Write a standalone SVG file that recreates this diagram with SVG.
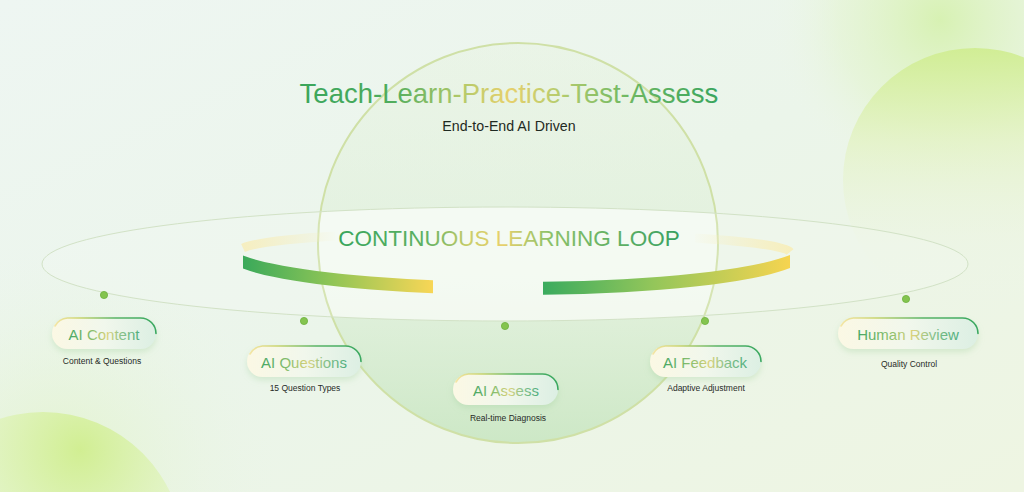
<svg xmlns="http://www.w3.org/2000/svg" width="1024" height="492" viewBox="0 0 1024 492">
<defs>
<style>
.pilltext{font-family:"Liberation Sans",Arial,sans-serif;font-size:15px;text-anchor:middle;fill:url(#gPillText)}
.sub{font-family:"Liberation Sans",Arial,sans-serif;font-size:8.5px;text-anchor:middle;fill:#262b27}
.pill{fill:url(#gPill);filter:url(#fShadow)}
.pilledge{fill:none;stroke:url(#gEdge);stroke-width:1.6;stroke-linecap:round}
.dot{fill:#84c44f;stroke:#6cb13c;stroke-width:0.8}
</style>
<linearGradient id="gBg" x1="0" y1="0" x2="1" y2="1">
<stop offset="0" stop-color="#eef6f2"/>
<stop offset="0.5" stop-color="#ebf5ea"/>
<stop offset="1" stop-color="#eef5e2"/>
</linearGradient>
<radialGradient id="gTR" cx="940" cy="20" r="170" gradientUnits="userSpaceOnUse">
<stop offset="0" stop-color="#d6f1b0" stop-opacity="0.95"/>
<stop offset="0.6" stop-color="#e2f4cb" stop-opacity="0.5"/>
<stop offset="1" stop-color="#eef6ea" stop-opacity="0"/>
</radialGradient>
<linearGradient id="gRC" x1="0" y1="0" x2="0" y2="1">
<stop offset="0" stop-color="#d0ed92" stop-opacity="0.95"/>
<stop offset="0.35" stop-color="#e2f2bf" stop-opacity="0.7"/>
<stop offset="0.75" stop-color="#edf5dd" stop-opacity="0.2"/>
<stop offset="1" stop-color="#eef6e6" stop-opacity="0"/>
</linearGradient>
<radialGradient id="gBL" cx="80" cy="450" r="150" gradientUnits="userSpaceOnUse">
<stop offset="0" stop-color="#d0ee8f" stop-opacity="0.95"/>
<stop offset="0.6" stop-color="#def3b6" stop-opacity="0.7"/>
<stop offset="1" stop-color="#e6f4d0" stop-opacity="0.3"/>
</radialGradient>
<radialGradient id="gBLglow" cx="60" cy="470" r="220" gradientUnits="userSpaceOnUse">
<stop offset="0" stop-color="#dff3c0" stop-opacity="0.7"/>
<stop offset="1" stop-color="#eaf5e6" stop-opacity="0"/>
</radialGradient>
<linearGradient id="gCircle" x1="0" y1="0" x2="0" y2="1">
<stop offset="0" stop-color="#e6f2dc" stop-opacity="0.35"/>
<stop offset="0.6" stop-color="#d6ecce" stop-opacity="0.45"/>
<stop offset="1" stop-color="#bfe2b8" stop-opacity="0.7"/>
</linearGradient>
<clipPath id="cCircle"><circle cx="518" cy="243" r="200"/></clipPath>
<linearGradient id="gTitle" x1="297" y1="0" x2="721" y2="0" gradientUnits="userSpaceOnUse">
<stop offset="0" stop-color="#39a55b"/>
<stop offset="0.22" stop-color="#4eac5d"/>
<stop offset="0.4" stop-color="#b9cb6a"/>
<stop offset="0.5" stop-color="#e7d06c"/>
<stop offset="0.62" stop-color="#b5cc6e"/>
<stop offset="0.78" stop-color="#6fb862"/>
<stop offset="1" stop-color="#38a45d"/>
</linearGradient>
<linearGradient id="gLoop" x1="340" y1="0" x2="678" y2="0" gradientUnits="userSpaceOnUse">
<stop offset="0" stop-color="#3aa55c"/>
<stop offset="0.25" stop-color="#5db062"/>
<stop offset="0.38" stop-color="#c8cd6a"/>
<stop offset="0.48" stop-color="#e8d06c"/>
<stop offset="0.62" stop-color="#8cc168"/>
<stop offset="1" stop-color="#3aa060"/>
</linearGradient>
<linearGradient id="gPillText" x1="0" y1="0" x2="1" y2="0">
<stop offset="0" stop-color="#45a664"/>
<stop offset="0.35" stop-color="#8fc06e"/>
<stop offset="0.55" stop-color="#dcd27c"/>
<stop offset="0.75" stop-color="#86c08a"/>
<stop offset="1" stop-color="#4fad7c"/>
</linearGradient>
<linearGradient id="gPill" x1="0" y1="0" x2="1" y2="0">
<stop offset="0" stop-color="#fbf8e4"/>
<stop offset="0.5" stop-color="#f1f7ec"/>
<stop offset="1" stop-color="#dcefe3"/>
</linearGradient>
<linearGradient id="gEdge" x1="0" y1="0" x2="1" y2="0">
<stop offset="0" stop-color="#eed97a" stop-opacity="0.6"/>
<stop offset="0.25" stop-color="#c9d46e"/>
<stop offset="0.6" stop-color="#58b366"/>
<stop offset="1" stop-color="#3aa860"/>
</linearGradient>
<filter id="fShadow" x="-20%" y="-30%" width="140%" height="180%">
<feDropShadow dx="0" dy="3" stdDeviation="3" flood-color="#9fd09a" flood-opacity="0.35"/>
</filter>
<linearGradient id="gRibL" x1="243" y1="0" x2="433" y2="0" gradientUnits="userSpaceOnUse">
<stop offset="0" stop-color="#3aa95a"/>
<stop offset="0.45" stop-color="#8cc456"/>
<stop offset="1" stop-color="#f8d656"/>
</linearGradient>
<linearGradient id="gRibR" x1="543" y1="0" x2="790" y2="0" gradientUnits="userSpaceOnUse">
<stop offset="0" stop-color="#3aab5e"/>
<stop offset="0.45" stop-color="#94c65a"/>
<stop offset="1" stop-color="#f6d450"/>
</linearGradient>
<linearGradient id="gCreamL" x1="243" y1="0" x2="340" y2="0" gradientUnits="userSpaceOnUse">
<stop offset="0" stop-color="#f6eebe" stop-opacity="0.95"/>
<stop offset="1" stop-color="#f6eebe" stop-opacity="0"/>
</linearGradient>
<linearGradient id="gCreamR" x1="790" y1="0" x2="690" y2="0" gradientUnits="userSpaceOnUse">
<stop offset="0" stop-color="#f7eebb" stop-opacity="0.95"/>
<stop offset="1" stop-color="#f7eebb" stop-opacity="0"/>
</linearGradient>
</defs>

<g id="background">
<rect width="1024" height="492" fill="url(#gBg)"/>
<rect width="1024" height="492" fill="url(#gTR)"/>
<circle cx="975" cy="180" r="132" fill="url(#gRC)"/>
<rect width="1024" height="492" fill="url(#gBLglow)"/>
<circle cx="43" cy="553" r="141" fill="url(#gBL)"/>
</g>

<g id="sphere">
<circle cx="518" cy="243" r="200" fill="url(#gCircle)"/>
<ellipse cx="505" cy="264" rx="463" ry="57" fill="#ffffff" fill-opacity="0.55" clip-path="url(#cCircle)"/>
<circle cx="518" cy="243" r="200" fill="none" stroke="#cfe0a6" stroke-width="2"/>
</g>

<g id="connectors">
<ellipse cx="505" cy="264" rx="463" ry="57" fill="#ffffff" fill-opacity="0.15" stroke="#d2e2c6" stroke-width="1"/>
<circle class="dot" cx="104" cy="295" r="3.6"/>
<circle class="dot" cx="304" cy="321" r="3.6"/>
<circle class="dot" cx="505" cy="326" r="3.6"/>
<circle class="dot" cx="705" cy="321" r="3.6"/>
<circle class="dot" cx="906" cy="299" r="3.6"/>
</g>

<g id="title">
<text x="509" y="103" font-family="'Liberation Sans',Arial,sans-serif" font-size="27.5" text-anchor="middle" fill="url(#gTitle)">Teach-Learn-Practice-Test-Assess</text>
<text x="509" y="131" font-family="'Liberation Sans',Arial,sans-serif" font-size="14.2" text-anchor="middle" fill="#1f2a22">End-to-End AI Driven</text>
</g>

<g id="loop">
<path d="M243 248 A 273 20 0 0 1 335 236" fill="none" stroke="url(#gCreamL)" stroke-width="9"/>
<path d="M790 252 A 274 20 0 0 0 695 238" fill="none" stroke="url(#gCreamR)" stroke-width="9"/>
<path d="M243 255.5 A 290 40 0 0 0 433 280.3 L 433 293.3 A 290 40 0 0 1 243 268.5 Z" fill="url(#gRibL)"/>
<path d="M543 281.8 A 290 40 0 0 0 790 255.1 L 790 268.1 A 290 40 0 0 1 543 294.8 Z" fill="url(#gRibR)"/>
<text x="509" y="246" font-family="'Liberation Sans',Arial,sans-serif" font-size="22.5" text-anchor="middle" fill="url(#gLoop)">CONTINUOUS LEARNING LOOP</text>
</g>

<g id="node-ai-content">
<rect class="pill" x="52" y="318" width="104" height="31" rx="15.5"/>
<path class="pilledge" d="M55 326 A 15.5 15.5 0 0 1 67.5 318 L 140.5 318 A 15.5 15.5 0 0 1 156 333.5"/>
<text class="pilltext" x="104" y="339.5">AI Content</text>
<text class="sub" x="102" y="364">Content &amp; Questions</text>
</g>

<g id="node-ai-questions">
<rect class="pill" x="247" y="346" width="114" height="31" rx="15.5"/>
<path class="pilledge" d="M250 354 A 15.5 15.5 0 0 1 262.5 346 L 345.5 346 A 15.5 15.5 0 0 1 361 361.5"/>
<text class="pilltext" x="304" y="367.5">AI Questions</text>
<text class="sub" x="305" y="391">15 Question Types</text>
</g>

<g id="node-ai-assess">
<rect class="pill" x="453" y="374" width="105" height="31" rx="15.5"/>
<path class="pilledge" d="M456 382 A 15.5 15.5 0 0 1 468.5 374 L 542.5 374 A 15.5 15.5 0 0 1 558 389.5"/>
<text class="pilltext" x="506" y="395.5">AI Assess</text>
<text class="sub" x="508" y="421">Real-time Diagnosis</text>
</g>

<g id="node-ai-feedback">
<rect class="pill" x="650" y="346" width="111" height="31" rx="15.5"/>
<path class="pilledge" d="M653 354 A 15.5 15.5 0 0 1 665.5 346 L 745.5 346 A 15.5 15.5 0 0 1 761 361.5"/>
<text class="pilltext" x="705" y="367.5">AI Feedback</text>
<text class="sub" x="706" y="391">Adaptive Adjustment</text>
</g>

<g id="node-human-review">
<rect class="pill" x="838" y="318" width="140" height="31" rx="15.5"/>
<path class="pilledge" d="M841 326 A 15.5 15.5 0 0 1 853.5 318 L 962.5 318 A 15.5 15.5 0 0 1 978 333.5"/>
<text class="pilltext" x="908" y="339.5">Human Review</text>
<text class="sub" x="909" y="367">Quality Control</text>
</g>
</svg>
